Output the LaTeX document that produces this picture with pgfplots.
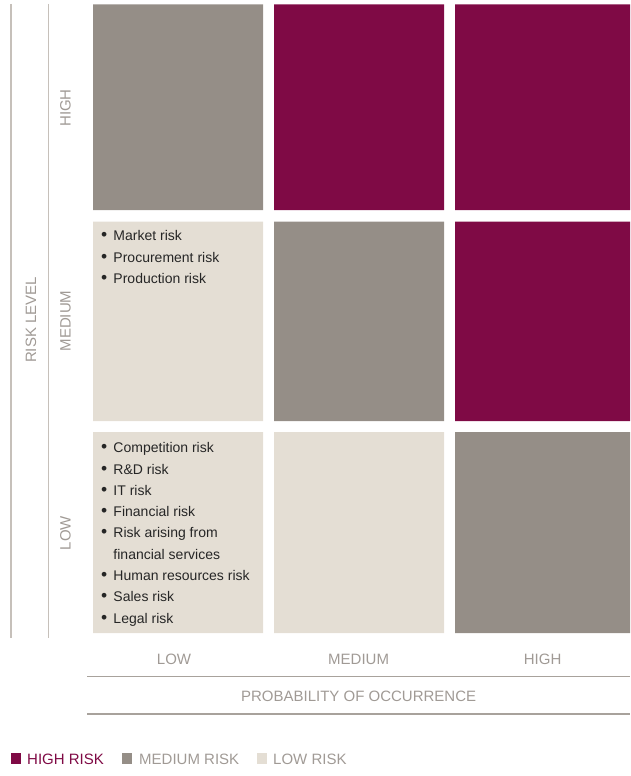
\documentclass[border=0pt]{standalone}
\usepackage{pgfplots}
\pgfplotsset{compat=1.18}
\usepackage{fontspec}
\setmainfont{Liberation Sans}
\definecolor{cHigh}{HTML}{7F0A45}
\definecolor{cMed}{HTML}{958E87}
\definecolor{cLow}{HTML}{E4DED4}
\definecolor{cLbl}{HTML}{A09A95}
\definecolor{cRule}{HTML}{C6C0BA}
\definecolor{cRule2}{HTML}{A8A29C}
\definecolor{cTxt}{HTML}{262626}
\newcommand{\lblfont}{\fontsize{15bp}{18bp}\selectfont}
\newcommand{\itemfont}{\fontsize{14bp}{16bp}\selectfont}
\newcommand{\bitem}[2]{%
  \node[anchor=base, inner sep=0, text=cTxt, font=\itemfont, scale=1.25] at (axis cs:104.3,#1) {\textbullet};
  \node[anchor=base west, inner sep=0, text=cTxt, font=\itemfont] at (axis cs:113.3,#1) {#2};}
\begin{document}
\begin{tikzpicture}
\begin{axis}[
  scale only axis, width=630bp, height=776bp,
  xmin=0, xmax=630, ymin=0, ymax=776, y dir=reverse,
  hide axis, clip=false,
]
\path (axis cs:0,0) rectangle (axis cs:630,776);
% cells: columns LOW, MEDIUM, HIGH probability; rows HIGH, MEDIUM, LOW risk level
% row HIGH
\addplot[fill=cMed, draw=none] coordinates {(93,4.5) (263,4.5) (263,210) (93,210) (93,4.5)};
\addplot[fill=cHigh, draw=none] coordinates {(274,4.5) (444,4.5) (444,210) (274,210) (274,4.5)};
\addplot[fill=cHigh, draw=none] coordinates {(455,4.5) (630,4.5) (630,210) (455,210) (455,4.5)};
% row MEDIUM
\addplot[fill=cLow, draw=none] coordinates {(93,221.5) (263,221.5) (263,421) (93,421) (93,221.5)};
\addplot[fill=cMed, draw=none] coordinates {(274,221.5) (444,221.5) (444,421) (274,421) (274,221.5)};
\addplot[fill=cHigh, draw=none] coordinates {(455,221.5) (630,221.5) (630,421) (455,421) (455,221.5)};
% row LOW
\addplot[fill=cLow, draw=none] coordinates {(93,432) (263,432) (263,633) (93,633) (93,432)};
\addplot[fill=cLow, draw=none] coordinates {(274,432) (444,432) (444,633) (274,633) (274,432)};
\addplot[fill=cMed, draw=none] coordinates {(455,432) (630,432) (630,633) (455,633) (455,432)};

% rules
\draw[cRule, line width=1.5bp] (axis cs:11,4) -- (axis cs:11,638);
\draw[cRule, line width=1.5bp] (axis cs:48.7,4) -- (axis cs:48.7,638);
\draw[cRule2, line width=1.2bp] (axis cs:87,676.7) -- (axis cs:630,676.7);
\draw[cRule2, line width=1.2bp] (axis cs:87,714) -- (axis cs:630,714);

% rotated labels
\node[rotate=90, anchor=base, inner sep=0, text=cLbl, font=\lblfont] at (axis cs:36,320) {RISK LEVEL};
\node[rotate=90, anchor=base, inner sep=0, text=cLbl, font=\lblfont] at (axis cs:70.7,108) {HIGH};
\node[rotate=90, anchor=base, inner sep=0, text=cLbl, font=\lblfont] at (axis cs:70.7,321) {MEDIUM};
\node[rotate=90, anchor=base, inner sep=0, text=cLbl, font=\lblfont] at (axis cs:70.7,533) {LOW};

% bottom labels
\node[anchor=base, inner sep=0, text=cLbl, font=\lblfont] at (axis cs:174,664.3) {LOW};
\node[anchor=base, inner sep=0, text=cLbl, font=\lblfont] at (axis cs:358.6,664.3) {MEDIUM};
\node[anchor=base, inner sep=0, text=cLbl, font=\lblfont] at (axis cs:542.6,664.3) {HIGH};
\node[anchor=base, inner sep=0, text=cLbl, font=\lblfont] at (axis cs:358.6,701.3) {PROBABILITY OF OCCURRENCE};

% bullet lists
\bitem{240.7}{Market risk}
\bitem{262}{Procurement risk}
\bitem{283.3}{Production risk}
\bitem{452.7}{Competition risk}
\bitem{474}{R\&D risk}
\bitem{495.3}{IT risk}
\bitem{516.6}{Financial risk}
\bitem{537.9}{Risk arising from}
\node[anchor=base west, inner sep=0, text=cTxt, font=\itemfont] at (axis cs:113.3,559.2) {financial services};
\bitem{580.5}{Human resources risk}
\bitem{601.8}{Sales risk}
\bitem{623.1}{Legal risk}

% legend
\fill[cHigh] (axis cs:11,753) rectangle (axis cs:21,764.3);
\node[anchor=base west, inner sep=0, text=cHigh, font=\lblfont] at (axis cs:27,764.3) {HIGH RISK};
\fill[cMed] (axis cs:122,753) rectangle (axis cs:132,764.3);
\node[anchor=base west, inner sep=0, text=cLbl, font=\lblfont] at (axis cs:139,764.3) {MEDIUM RISK};
\fill[cLow] (axis cs:257,753) rectangle (axis cs:267,764.3);
\node[anchor=base west, inner sep=0, text=cLbl, font=\lblfont] at (axis cs:273,764.3) {LOW RISK};
\end{axis}
\end{tikzpicture}
\end{document}
